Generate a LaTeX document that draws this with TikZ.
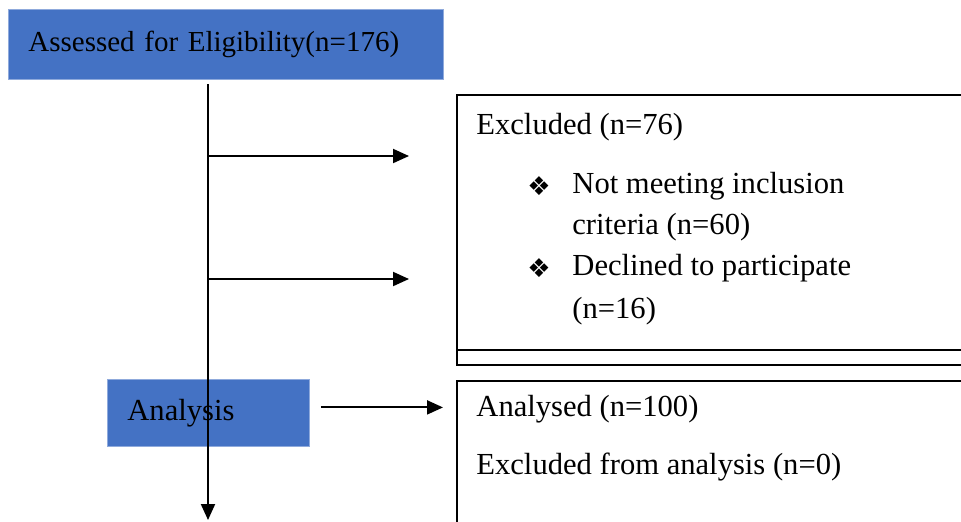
\documentclass[tikz,border=0pt]{standalone}
\usepackage{fontspec}
\setmainfont{Liberation Serif}
\newfontfamily\symfont{DejaVu Sans}
\usepackage{xcolor}
\usetikzlibrary{arrows.meta,positioning}
\definecolor{boxblue}{HTML}{4472C4}
\definecolor{boxedge}{HTML}{8FAADC}

\begin{document}
\begin{tikzpicture}[x=0.5pt,y=-0.5pt,>={Triangle[length=8pt,width=7pt]},
 bb/.style={fill=boxblue,draw=boxedge,line width=0.4pt,anchor=north west,align=left,inner xsep=10pt,inner ysep=0pt,font=\fontsize{14.5pt}{17pt}\selectfont},
 wb/.style={draw=black,line width=1pt,anchor=north west,inner sep=0pt},
 t/.style={anchor=west,inner sep=0pt,font=\fontsize{15.3pt}{17pt}\selectfont},
 bul/.style={anchor=west,inner sep=0pt,font=\symfont\fontsize{13pt}{14pt}\selectfont},
 a/.style={->,line width=1pt}]
 \useasboundingbox (0,0) rectangle (961,521);
 \clip (0,0) rectangle (961,521);
 \node[bb,text width=197.5pt,minimum height=35pt] (assess) at (8,9) {Assessed for Eligibility(n=176)};
 \node[wb,minimum width=262pt,minimum height=135pt] (excl) at (456,94) {};
 \draw[line width=1pt] (excl.west |- 0,350) -- (excl.east |- 0,350);
 \node[t] (exclhead) at (476,127) {Excluded (n=76)};
 \node[bul] (bul1) at (527,186) {❖};
 \node[t] (item1a) at (572,186) {Not meeting inclusion};
 \node[t] (item1b) at (572,227) {criteria (n=60)};
 \node[bul] (bul2) at (527,268) {❖};
 \node[t] (item2a) at (572,268) {Declined to participate};
 \node[t] (item2b) at (572,311) {(n=16)};
 \node[bb,text width=81pt,minimum height=33.5pt,font=\fontsize{15.3pt}{17pt}\selectfont] (analysis) at (107,379) {Analysis};
 \node[wb,minimum width=262pt,minimum height=90pt] (analysed) at (456,380) {};
 \node[t] (anhead) at (476,409) {Analysed (n=100)};
 \node[t] (anexcl) at (476,467) {Excluded from analysis (n=0)};
 \coordinate (top) at (208,84);
 \coordinate (bot) at (208,520);
 \coordinate (b1) at (208,156); \coordinate (e1) at (409,156);
 \coordinate (b2) at (208,279); \coordinate (e2) at (409,279);
 \draw[a] (top)--(bot);
 \draw[a] (b1)--(e1); \draw[a] (b2)--(e2);
 \draw[a,shorten <=5.5pt,shorten >=6.5pt] ([yshift=2.75pt]analysis.east)--([yshift=2.75pt]analysis.east -| analysed.west);
\end{tikzpicture}
\end{document}
